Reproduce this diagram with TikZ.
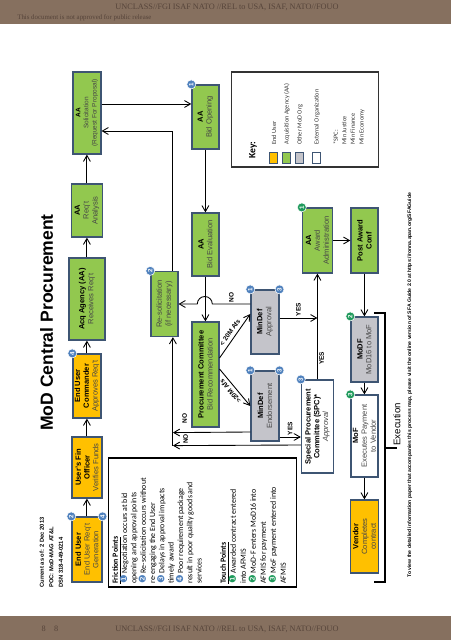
\documentclass[tikz,border=0pt]{standalone}
\usepackage{fontspec}
\setmainfont{Liberation Serif}
\setsansfont{Liberation Sans}
\newfontfamily\calibri{Carlito}
\newfontfamily\dejavu{DejaVu Sans}
\usepackage{tikz}
\usetikzlibrary{arrows,calc}

\definecolor{userfill}{HTML}{FFC000}
\definecolor{aafill}{HTML}{92C84F}
\definecolor{modfill}{HTML}{C4C4CA}
\definecolor{boxline}{HTML}{3E5573}
\definecolor{subtext}{HTML}{464646}
\definecolor{badgeblue}{HTML}{4F81BD}
\definecolor{badgegreen}{HTML}{1F9A5C}
\definecolor{band}{HTML}{86705F}
\definecolor{bandtext}{HTML}{56443A}

\newcommand{\hd}[1]{{\color{black}\bfseries #1}}
\newcommand{\fb}[1]{\smash{\textcolor{badgeblue}{\dejavu\fontsize{5.5}{5.5}\selectfont #1}}}
\newcommand{\tb}[1]{\smash{\textcolor{badgegreen}{\dejavu\fontsize{5.5}{5.5}\selectfont #1}}}

\begin{document}
\begin{tikzpicture}[x=0.02cm,y=0.02cm,
    box/.style={draw=boxline,line width=0.7pt,inner sep=0pt,align=center,text=subtext,
      font=\sffamily\fontsize{4.3}{5}\selectfont},
    user/.style={box,fill=userfill},
    aa/.style={box,fill=aafill},
    mod/.style={box,fill=modfill},
    ext/.style={box,fill=white},
    badge/.style={circle,fill=#1,draw=white,line width=0.3pt,minimum size=0.18cm,inner sep=0pt,
      text=white,font=\sffamily\bfseries\fontsize{3.5}{3.5}\selectfont},
    flow/.style={->,>=angle 60,line width=0.5pt},
    lbl/.style={font=\sffamily\bfseries\fontsize{3.7}{4}\selectfont,inner sep=0.8pt},
    swatch/.style={draw=boxline,line width=0.5pt,minimum width=0.22cm,minimum height=0.16cm,inner sep=0pt},
    keytext/.style={font=\calibri\fontsize{3.6}{4.9}\selectfont,text=black!80,inner sep=0pt,anchor=west}]
  \useasboundingbox (0,0) rectangle (451,640);

  % header and footer bands
  \fill[band] (0,616) rectangle (451,640);
  \node[font=\rmfamily\fontsize{4.7}{5}\selectfont,text=bandtext] (classtop) at (227,633) {UNCLASS//FGI ISAF NATO //REL to USA, ISAF, NATO//FOUO};
  \node[anchor=west,inner sep=0pt,font=\rmfamily\fontsize{3.9}{4}\selectfont,text=bandtext] (release) at (17,622) {This document is not approved for public release};
  \fill[band] (0,0) rectangle (451,24);
  \node[font=\rmfamily\fontsize{4.7}{5}\selectfont,text=bandtext] (classbot) at (227,11) {UNCLASS//FGI ISAF NATO //REL to USA, ISAF, NATO//FOUO};
  \node[font=\rmfamily\fontsize{4.7}{5}\selectfont,text=bandtext] (pageno) at (50,11) {8\quad 8};

  % the process map, laid out on its side
  \begin{scope}[shift={(9.02cm,0cm)},rotate=90,transform shape]
    \node[anchor=base,font=\sffamily\bfseries\fontsize{10}{12}\selectfont] (title) at (317.5,398) {MoD Central Procurement};
    \node[anchor=north west,inner sep=0pt,align=left,font=\sffamily\bfseries\fontsize{3.3}{5.4}\selectfont] (stamp) at (52,411.5) {Current as of: 2 Dec 2013\\POC: MoD-MAG AT\&L\\DSN 318-449-0214};

    % requirement row
    \node[user,minimum width=1.3cm,minimum height=0.6cm] (eu) at (90.5,364) {\hd{End User}\\End User Req't\\Generation};
    \node[user,minimum width=1.22cm,minimum height=0.6cm] (fin) at (172.5,364) {\hd{User's Fin}\\\hd{Officer}\\Verifies Funds};
    \node[user,minimum width=1.28cm,minimum height=0.56cm] (cmd) at (254,364) {\hd{End User}\\\hd{Commander}\\Approves Req't};
    \node[aa,minimum width=1.64cm,minimum height=0.72cm] (acq) at (341,364) {\hd{Acq Agency (AA)}\\Receives Req't};
    \node[aa,minimum width=1.06cm,minimum height=0.62cm] (ana) at (429.5,364) {\hd{AA}\\Req't\\Analysis};
    \node[aa,minimum width=1.64cm,minimum height=0.56cm,font=\sffamily\fontsize{3.7}{4.6}\selectfont] (sol) at (527,364) {\hd{AA}\\Solicitation\\(Request For Proposal)};

    % bid row
    \node[aa,minimum width=1.28cm,minimum height=0.54cm] (open) at (523,245.5) {\hd{AA}\\Bid Opening};
    \node[aa,minimum width=1.26cm,minimum height=0.54cm] (eval) at (395.5,245.5) {\hd{AA}\\Bid Evaluation};
    \node[aa,minimum width=2.1cm,minimum height=0.54cm] (pc) at (265.5,245.5) {\hd{Procurement Committee}\\Bid Recommendation};
    \node[aa,minimum width=1.3cm,minimum height=0.54cm] (resol) at (336,286.5) {Re-solicitation\\(if necessary)};

    % approval row
    \node[mod,minimum width=1.28cm,minimum height=0.56cm] (appr) at (318,186) {\hd{MinDef}\\Approval};
    \node[mod,minimum width=1.4cm,minimum height=0.56cm] (endo) at (234,186) {\hd{MinDef}\\Endorsement};
    \node[ext,minimum width=1.86cm,minimum height=0.64cm] (spc) at (213.5,133.5) {\hd{Special Procurement}\\\hd{Committee (SPC)*}\\\textit{Approval}};
    \node[aa,minimum width=1.3cm,minimum height=0.6cm] (award) at (399.5,133.5) {\hd{AA}\\Award\\Administration};

    % execution row
    \node[aa,minimum width=1.3cm,minimum height=0.54cm] (post) at (399.5,86.5) {\hd{Post Award}\\\hd{Conf}};
    \node[mod,minimum width=1.3cm,minimum height=0.54cm] (modf) at (290.5,86.5) {\hd{MoDF}\\MoD16 to MoF};
    \node[ext,minimum width=1.64cm,minimum height=0.54cm] (mof) at (204,86.5) {\hd{MoF}\\Executes Payment\\to Vendor};
    \node[user,minimum width=1.46cm,minimum height=0.56cm] (vendor) at (103.5,86.5) {\hd{Vendor}\\Completes\\contract};

    % numbered markers
    \node[badge=badgeblue] at (eu.north east) {2};
    \node[badge=badgeblue] at (eu.south east) {4};
    \node[badge=badgeblue] at (cmd.north east) {4};
    \node[badge=badgeblue] at (resol.north east) {2};
    \node[badge=badgeblue] at (open.north east) {1};
    \node[badge=badgeblue] at (appr.north east) {1};
    \node[badge=badgeblue] at (appr.south east) {3};
    \node[badge=badgeblue] at (endo.north east) {1};
    \node[badge=badgeblue] at (endo.south east) {3};
    \node[badge=badgeblue] at (spc.north east) {3};
    \node[badge=badgegreen] at (award.north east) {1};
    \node[badge=badgegreen] at (modf.north east) {2};
    \node[badge=badgegreen] at (mof.north east) {3};

    % flow
    \draw[flow] (eu.east) -- (fin.west);
    \draw[flow] (fin.east) -- (cmd.west);
    \draw[flow] (cmd.east) -- (acq.west);
    \draw[flow] (acq.east) -- (ana.west);
    \draw[flow] (ana.east) -- (sol.west);
    \draw[flow] ($(sol.south)+(9,0)$) -- ($(open.north)+(13,0)$);
    \draw[flow] ($(resol.east)+(0,-8.5)$) -| ($(sol.south)+(-18,0)$);
    \draw[flow] (open.west) -- (eval.east);
    \draw[flow] (eval.west) -- (pc.east);
    \draw[flow] (resol.south |- appr.north) -- ++(0,38) node[lbl,right,midway]{NO}
      arc[start angle=-90,end angle=90,radius=7.5] -- (resol.south);
    \draw[flow] ($(pc.south)+(16.5,0)$) -- node[lbl,sloped,above=1pt]{< 20M Afs} ($(appr.north)+(8,0)$);
    \draw[flow] ($(pc.south)+(5.5,0)$) -- node[lbl,sloped,above=1pt]{>20M Afs} (endo.north);
    \coordinate (yesa) at ($(appr.south)+(4,0)$);
    \draw[flow] (yesa) -- (yesa |- award.west) node[lbl,right,midway]{YES};
    \draw[flow] (spc.east) -- node[lbl,below,pos=0.2]{YES} (award.west);
    \draw[flow] ($(endo.south)+(-31,0)$) -- node[lbl,right]{YES} ($(spc.north)+(-10.5,0)$);
    \coordinate (nobus) at ($(resol.west)+(-108.5,-8.5)$);
    \draw[flow] (nobus) -- (nobus -| resol.west);
    \draw[flow] ($(spc.north)+(-18.5,0)$) -- node[lbl,right,pos=0.9]{NO} (nobus);
    \draw[flow] ($(endo.north)+(-26,0)$) -- node[lbl,right,pos=0.85,xshift=4pt]{NO} ($(nobus)+(13,0)$);
    \draw[flow] (award.south) -- (post.north);
    \draw[flow] (post.west) -- (modf.east);
    \draw[flow] (modf.west) -- (mof.east);
    \draw[flow] (mof.west) -- (vendor.east);

    % execution bracket
    \draw[line width=0.7pt] (327,77) -- (327,66) -- (58,66) -- (58,77);
    \draw[line width=1.1pt] (192,66) -- (192,54);
    \node[anchor=west,inner sep=0pt,font=\sffamily\fontsize{5.5}{6}\selectfont] (exec) at (194,54) {Execution};

    % key
    \draw[line width=0.6pt,draw=black!80] (473,72) rectangle (568,219);
    \node[font=\calibri\bfseries\fontsize{5.5}{6}\selectfont] (keyhead) at (490,198) {Key:};
    \node[swatch,fill=userfill] (k1) at (482.5,177) {};
    \node[swatch,fill=aafill] (k2) at (482.5,164) {};
    \node[swatch,fill=modfill] (k3) at (482.5,151) {};
    \node[swatch,fill=white] (k4) at (482.5,134) {};
    \node[keytext] at (495,177) {End User};
    \node[keytext] at (495,164) {Acquisition Agency (AA)};
    \node[keytext] at (495,151) {Other MoD Org};
    \node[keytext] at (495,134) {External Organization};
    \node[keytext,anchor=north west,align=left] (spckey) at (495,118) {*SPC:\\Min Justice\\Min Finance\\Min Economy};

    % friction and touch points
    \draw[line width=0.6pt] (53,154) rectangle (182,342);
    \node[anchor=north west,inner sep=0pt,align=left,font=\calibri\fontsize{4.5}{5.3}\selectfont] (friction) at (56,339) {%
      \underline{\textbf{Friction Points}}\\
      \fb{❶} Negotiation occurs at bid\\
      opening and approval points\\
      \fb{❷} Re-solicitation occurs without\\
      re-engaging the End User\\
      \fb{❸} Delays in approval impacts\\
      timely award\\
      \fb{❹} Poor requirement package\\
      result in poor quality goods and\\
      services\\[8.5pt]
      \underline{\textbf{Touch Points}}\\[0.4pt]
      \tb{❶} Awarded contract entered\\[0.4pt]
      into AFMIS\\[0.4pt]
      \tb{❷} MoD-F enters MoD16 into\\[0.4pt]
      AFMIS for payment\\[0.4pt]
      \tb{❸} MoF payment entered into\\[0.4pt]
      AFMIS};

    \node[anchor=west,inner sep=0pt,font=\sffamily\bfseries\fontsize{2.9}{3.5}\selectfont] (weblink) at (62,41) {To view the detailed information paper that accompanies this process map, please visit the online version of SFA Guide 2.0 at https://ronna.apan.org/SFAGuide};
  \end{scope}
\end{tikzpicture}
\end{document}
